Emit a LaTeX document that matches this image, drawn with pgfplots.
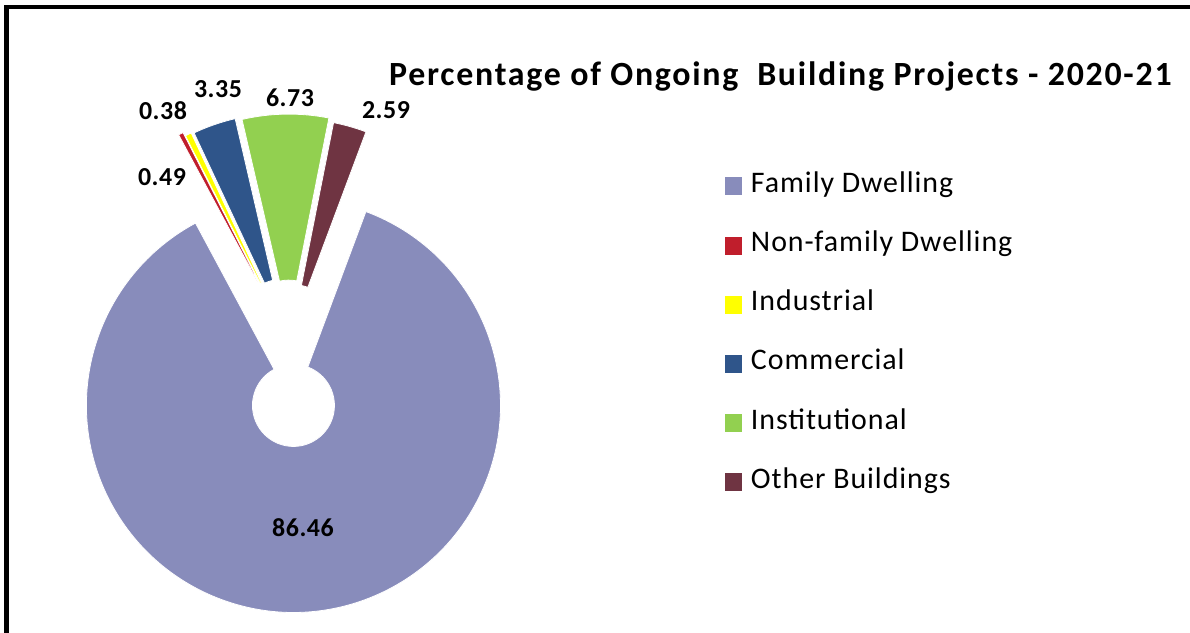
\documentclass[border=0pt]{standalone}
\usepackage{pgfplots}
\pgfplotsset{compat=1.18}
\usepackage{pgfplotstable}
\usepackage{fontspec}
\setmainfont{Carlito}
\newfontfamily\titlefont[LetterSpace=5.15]{Carlito}
\newfontfamily\legfont[LetterSpace=3.2]{Carlito}
\newfontfamily\labfont[LetterSpace=2.0]{Carlito}

\definecolor{col0}{RGB}{136,140,187}
\definecolor{col1}{RGB}{192,30,44}
\definecolor{col2}{RGB}{255,255,0}
\definecolor{col3}{RGB}{47,85,138}
\definecolor{col4}{RGB}{146,208,80}
\definecolor{col5}{RGB}{111,52,66}

% value = percentage, explode = slice offset (px), labx/laby = label centre (px from top left)
\pgfplotstableread[col sep=comma]{
name,value,explode,labx,laby
Family Dwelling,86.46,64.5,303,528
Non-family Dwelling,0.38,27,163,111
Industrial,0.49,23,162,177
Commercial,3.35,22,218,89.5
Institutional,6.73,20,290,98
Other Buildings,2.59,16,386,110
}\piedata

\def\getv#1#2{\csname #1#2\endcsname}

\begin{document}
\begin{tikzpicture}
\useasboundingbox (0,0) rectangle (1190bp,633bp);
\fill[white] (0,0) rectangle (1190bp,633bp);
% compute slice geometry from the table
\def\cum{20.5}
\pgfplotsforeachungrouped \i in {0,1,2,3,4,5}{%
  \pgfplotstablegetelem{\i}{value}\of\piedata \let\v\pgfplotsretval
  \pgfplotstablegetelem{\i}{explode}\of\piedata \let\ex\pgfplotsretval
  \pgfplotstablegetelem{\i}{labx}\of\piedata \let\lx\pgfplotsretval
  \pgfplotstablegetelem{\i}{laby}\of\piedata \let\ly\pgfplotsretval
  \pgfmathsetmacro\aS{90-\cum}%
  \pgfmathsetmacro\aE{90-\cum-3.6*\v}%
  \pgfmathsetmacro\aM{(\aS+\aE)/2}%
  \pgfmathsetmacro\cx{289.1+\ex*cos(\aM)}%
  \pgfmathsetmacro\cy{291.9+\ex*sin(\aM)}%
  \pgfmathsetmacro\aB{\aE+180}%
  \pgfmathsetmacro\lyy{633-\ly}%
  \pgfmathsetmacro\cum{\cum+3.6*\v}%
  \expandafter\xdef\csname sS\i\endcsname{\aS}%
  \expandafter\xdef\csname sE\i\endcsname{\aE}%
  \expandafter\xdef\csname sB\i\endcsname{\aB}%
  \expandafter\xdef\csname sX\i\endcsname{\cx}%
  \expandafter\xdef\csname sY\i\endcsname{\cy}%
  \expandafter\xdef\csname sV\i\endcsname{\v}%
  \expandafter\xdef\csname sLX\i\endcsname{\lx}%
  \expandafter\xdef\csname sLY\i\endcsname{\lyy}%
}
\begin{axis}[
  at={(0,0)}, anchor=south west,
  x=1bp, y=1bp, xmin=0, xmax=1190, ymin=0, ymax=633,
  hide axis, clip=false,
  legend cell align=left,
  legend style={at={(0.60924,0.72622)}, anchor=north west, draw=none, fill=none,
    inner sep=0pt, outer sep=0pt, row sep=33.2bp, column sep=8.5bp,
    font=\legfont\fontsize{30}{30}\selectfont,
    nodes={inner sep=0pt, text height=19bp, text depth=7bp}},
  legend image code/.code={\fill[#1, draw=none] (0bp,-9bp) rectangle (17.5bp,9bp);},
]
\pgfplotsinvokeforeach{0,1,2,3,4,5}{
  \fill[fill=col#1, draw=white, line width=0.8bp]
    (axis cs:\getv{sX}{#1},\getv{sY}{#1}) ++(\getv{sS}{#1}:207bp)
    arc[start angle=\getv{sS}{#1}, end angle=\getv{sE}{#1}, radius=207bp]
    -- ++(\getv{sB}{#1}:166bp)
    arc[start angle=\getv{sE}{#1}, end angle=\getv{sS}{#1}, radius=41bp] -- cycle;
  \node[font=\labfont\bfseries\fontsize{26}{26}\selectfont, inner sep=0pt]
    at (axis cs:\getv{sLX}{#1},\getv{sLY}{#1}) {\getv{sV}{#1}};
}
\node[anchor=base west, inner sep=0pt, font=\titlefont\bfseries\fontsize{34}{34}\selectfont]
  at (axis cs:389,547.5) {Percentage of Ongoing\ \ Building Projects - 2020-21};
\addlegendimage{fill=col0}\addlegendentry{Family Dwelling}
\addlegendimage{fill=col1}\addlegendentry{Non-family Dwelling}
\addlegendimage{fill=col2}\addlegendentry{Industrial}
\addlegendimage{fill=col3}\addlegendentry{Commercial}
\addlegendimage{fill=col4}\addlegendentry{Institutional}
\addlegendimage{fill=col5}\addlegendentry{Other Buildings}
\end{axis}
\draw[line width=4.8bp] (6.5bp,-30bp) -- (6.5bp,626bp) -- (1220bp,626bp);
\end{tikzpicture}
\end{document}
